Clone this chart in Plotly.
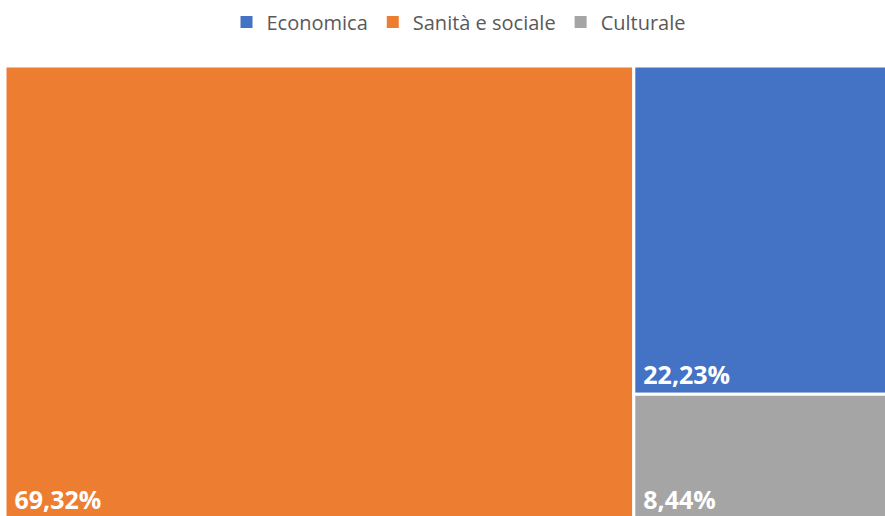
import plotly.graph_objects as go

# dati
categorie = ["Sanità e sociale", "Economica", "Culturale"]
percentuali = [69.32, 22.23, 8.44]
colori = ["#ED7D31", "#4472C4", "#A5A5A5"]
ordine_legenda = ["Economica", "Sanità e sociale", "Culturale"]

fig = go.Figure()

fig.add_trace(go.Treemap(
    labels=categorie,
    parents=[""] * len(categorie),
    values=percentuali,
    sort=True,
    texttemplate="\u00a0%{value:.2f}%",
    textposition="bottom left",
    textfont=dict(family="Open Sans", size=25, color="white", weight="bold"),
    marker=dict(colors=colori, line=dict(color="white", width=3),
                pad=dict(t=0, l=0, r=0, b=0)),
    tiling=dict(packing="squarify", pad=0),
    pathbar=dict(visible=False),
    domain=dict(x=[0, 1], y=[0, 1]),
    hoverinfo="label+value",
))

# voci di legenda (quadratini)
for nome in ordine_legenda:
    fig.add_trace(go.Scatter(
        x=[None], y=[None], mode="markers", name=nome,
        marker=dict(symbol="square", size=12, color=colori[categorie.index(nome)]),
    ))

# il grafico originale è tagliato a destra e in basso
fig.update_layout(
    width=912,
    height=519,
    separators=",.",
    margin=dict(l=5, r=0, t=66, b=0),
    paper_bgcolor="white",
    plot_bgcolor="white",
    font=dict(family="Open Sans", color="#595959"),
    legend=dict(orientation="h", x=0.5, xanchor="center", y=0.995, yanchor="top",
                yref="container", font=dict(size=20)),
    xaxis=dict(visible=False),
    yaxis=dict(visible=False),
)

fig.write_html(
    "out.html",
    config={"displayModeBar": False},
    post_script="document.body.style.margin='0';document.body.style.overflow='hidden';",
)
